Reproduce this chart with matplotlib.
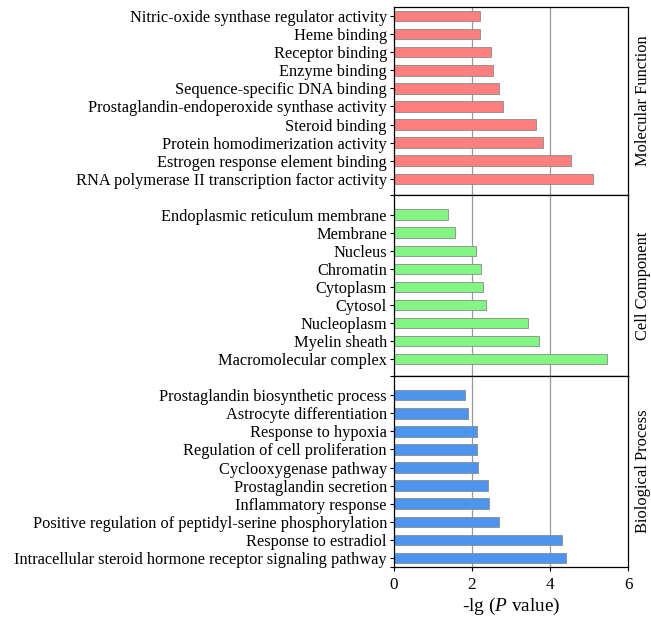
import numpy as np
import matplotlib
matplotlib.use("Agg")
import matplotlib.pyplot as plt

plt.rcParams['font.family'] = ['Liberation Serif', 'DejaVu Serif']
plt.rcParams['mathtext.fontset'] = 'custom'
plt.rcParams['mathtext.it'] = 'Liberation Serif:italic'
plt.rcParams['mathtext.rm'] = 'Liberation Serif'

# GO terms, top to bottom within each category, and their -lg(P) values
mf_terms = ["Nitric-oxide synthase regulator activity", "Heme binding",
            "Receptor binding", "Enzyme binding", "Sequence-specific DNA binding",
            "Prostaglandin-endoperoxide synthase activity", "Steroid binding",
            "Protein homodimerization activity", "Estrogen response element binding",
            "RNA polymerase II transcription factor activity"]
mf_vals = [2.20, 2.21, 2.48, 2.55, 2.70, 2.80, 3.64, 3.83, 4.53, 5.09]

cc_terms = ["Endoplasmic reticulum membrane", "Membrane", "Nucleus", "Chromatin",
            "Cytoplasm", "Cytosol", "Nucleoplasm", "Myelin sheath",
            "Macromolecular complex"]
cc_vals = [1.39, 1.56, 2.10, 2.24, 2.28, 2.35, 3.44, 3.72, 5.45]

bp_terms = ["Prostaglandin biosynthetic process", "Astrocyte differentiation",
            "Response to hypoxia", "Regulation of cell proliferation",
            "Cyclooxygenase pathway", "Prostaglandin secretion",
            "Inflammatory response",
            "Positive regulation of peptidyl-serine phosphorylation",
            "Response to estradiol",
            "Intracellular steroid hormone receptor signaling pathway"]
bp_vals = [1.81, 1.89, 2.13, 2.13, 2.16, 2.42, 2.44, 2.68, 4.30, 4.40]

groups = [("Molecular Function", mf_terms, mf_vals, "#FF7F7F", (0.5, 0.88)),
          ("Cell Component", cc_terms, cc_vals, "#82F582", (1.1, 0.94)),
          ("Biological Process", bp_terms, bp_vals, "#4D94EE", (1.05, 0.5))]

heights = [len(g[1]) - 1 + g[4][0] + g[4][1] for g in groups]

fig = plt.figure(figsize=(6.51, 6.21), dpi=100)
gs = fig.add_gridspec(3, 1, height_ratios=heights, hspace=0,
                      left=0.605, right=0.965, top=0.9887, bottom=0.087)

for i, (name, terms, vals, color, (pad_top, pad_bot)) in enumerate(groups):
    ax = fig.add_subplot(gs[i])
    y = np.arange(len(terms))
    ax.barh(y, vals, height=0.58, color=color, edgecolor="#8a8a8a",
            linewidth=0.6, zorder=2)
    ax.set_ylim(len(terms) - 1 + pad_bot, -pad_top)
    ax.set_xlim(0, 6)
    for gx in (2, 4):
        ax.axvline(gx, color="#999999", linewidth=0.9, zorder=1)
    # category labels plus an unlabeled tick at the panel's lower edge
    ax.set_yticks(list(y) + [len(terms) - 1 + pad_bot])
    ax.set_yticklabels(terms + [""], fontsize=11.8)
    ax.tick_params(axis='y', direction='out', length=3, width=0.8, pad=2)
    ax.tick_params(axis='x', direction='out', length=3, width=0.8)
    for sp in ax.spines.values():
        sp.set_linewidth(0.9)
    ax.text(1.064, 0.5, name, transform=ax.transAxes, rotation=90,
            ha='center', va='center', fontsize=11.9)
    if i < 2:
        ax.tick_params(axis='x', bottom=False, labelbottom=False)
    else:
        ax.set_xticks([0, 2, 4, 6])
        ax.tick_params(axis='x', labelsize=12.3, pad=4)
        ax.set_xlabel(r"-lg ($P$ value)", fontsize=13.9, labelpad=2)

fig.savefig("out.png", dpi=100)
